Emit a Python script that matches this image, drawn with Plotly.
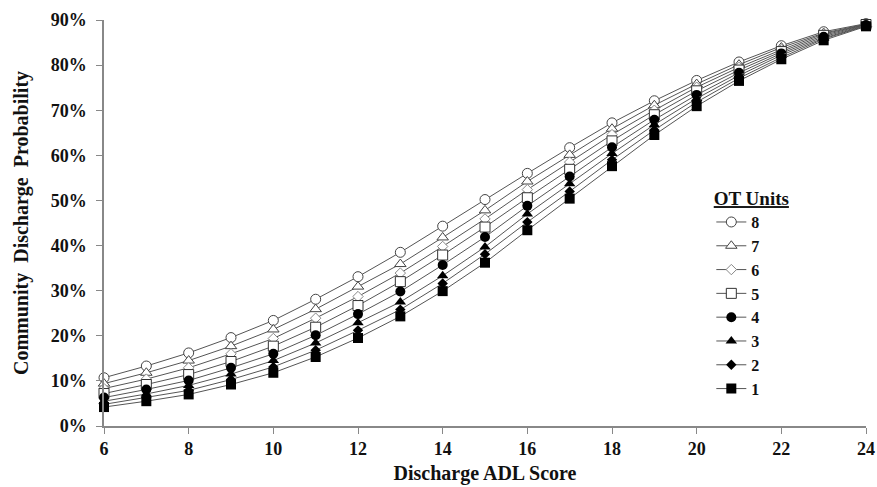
import plotly.graph_objects as go

adl_scores = [6, 7, 8, 9, 10, 11, 12, 13, 14, 15, 16, 17, 18, 19, 20, 21, 22, 23, 24]

# probabilities (%) per OT-unit series
ot_1 = [4.2, 5.5, 7.0, 9.2, 11.8, 15.3, 19.5, 24.3, 29.9, 36.2, 43.4, 50.4, 57.6, 64.5, 70.9, 76.5, 81.3, 85.5, 88.6]
ot_2 = [4.8, 6.3, 7.9, 10.3, 13.1, 16.8, 21.2, 25.8, 31.6, 38.1, 45.2, 52.0, 59.0, 65.6, 71.8, 77.1, 81.7, 85.8, 88.7]
ot_3 = [5.5, 7.1, 9.0, 11.5, 14.5, 18.4, 22.9, 27.5, 33.3, 39.7, 47.0, 53.7, 60.4, 66.8, 72.6, 77.7, 82.2, 86.0, 88.8]
ot_4 = [6.3, 8.1, 10.1, 12.9, 16.0, 20.1, 24.8, 29.8, 35.7, 41.9, 48.8, 55.3, 61.8, 67.9, 73.4, 78.3, 82.6, 86.3, 88.9]
ot_5 = [7.2, 9.2, 11.4, 14.3, 17.7, 21.9, 26.7, 32.0, 37.9, 44.1, 50.6, 56.9, 63.2, 69.0, 74.3, 78.9, 83.0, 86.6, 89.0]
ot_6 = [8.3, 10.4, 12.9, 16.0, 19.4, 23.9, 28.7, 33.9, 39.8, 45.9, 52.4, 58.5, 64.6, 70.0, 75.1, 79.5, 83.4, 86.9, 89.0]
ot_7 = [9.4, 11.8, 14.5, 17.7, 21.4, 25.9, 30.9, 35.9, 41.8, 47.8, 54.2, 60.1, 65.9, 71.1, 75.8, 80.1, 83.9, 87.1, 89.1]
ot_8 = [10.7, 13.3, 16.2, 19.6, 23.4, 28.1, 33.1, 38.5, 44.3, 50.2, 56.0, 61.7, 67.2, 72.1, 76.6, 80.7, 84.3, 87.4, 89.2]

series_names = ["8", "7", "6", "5", "4", "3", "2", "1"]
series_values = [ot_8, ot_7, ot_6, ot_5, ot_4, ot_3, ot_2, ot_1]
y_ticks = [0, 10, 20, 30, 40, 50, 60, 70, 80, 90]
x_ticks = [6, 8, 10, 12, 14, 16, 18, 20, 22, 24]

styles = {
    "8": dict(symbol="circle", size=10, color="white", line=dict(color="#444", width=1)),
    "7": dict(symbol="triangle-up", size=10, color="white", line=dict(color="#444", width=1)),
    "6": dict(symbol="diamond", size=8, color="white", line=dict(color="#888", width=1)),
    "5": dict(symbol="square", size=10, color="white", line=dict(color="#333", width=1)),
    "4": dict(symbol="circle", size=10, color="black", line=dict(color="black", width=0)),
    "3": dict(symbol="triangle-up", size=10, color="black", line=dict(color="black", width=0)),
    "2": dict(symbol="diamond", size=8, color="black", line=dict(color="black", width=0)),
    "1": dict(symbol="square", size=10, color="black", line=dict(color="black", width=0)),
}

FONT = "Liberation Serif"

fig = go.Figure()
for name, vals in zip(series_names, series_values):
    fig.add_trace(go.Scatter(
        x=adl_scores, y=[v / 100 for v in vals], name=f"<b>{name}</b>",
        mode="lines+markers",
        line=dict(color="#555", width=1),
        marker=styles[name],
        cliponaxis=False,
    ))

fig.update_layout(
    width=877, height=487,
    margin=dict(l=104, r=11, t=20, b=61),
    paper_bgcolor="white", plot_bgcolor="white",
    font=dict(family=FONT, color="#111", size=17),
    showlegend=True,
    legend=dict(
        title=dict(text="<b><u>OT Units</u></b>", font=dict(family=FONT, size=19), side="top center"),
        font=dict(family=FONT, size=16, color="#111"),
        x=0.797, y=0.605, xanchor="left", yanchor="top",
        bgcolor="rgba(0,0,0,0)", itemwidth=30, tracegroupgap=0,
    ),
    xaxis=dict(
        range=[6, 24], tickvals=x_ticks, ticktext=[f"<b>{t}</b>" for t in x_ticks],
        showgrid=False, zeroline=False, showline=True, linecolor="#888", linewidth=1.5,
        ticks="outside", ticklen=6, tickcolor="#888", automargin=False,
        tickfont=dict(family=FONT, size=18, color="#111"),
        title=dict(text="<b>Discharge ADL Score</b>", font=dict(family=FONT, size=20), standoff=8),
    ),
    yaxis=dict(
        range=[0, 0.9], tickvals=[t / 100 for t in y_ticks],
        ticktext=[f"<b>{t}%</b>" for t in y_ticks],
        showgrid=False, zeroline=False, showline=True, linecolor="#888", linewidth=1.5,
        ticks="outside", ticklen=6, tickcolor="#888", ticklabelstandoff=6, automargin=False,
        tickfont=dict(family=FONT, size=18, color="#111"),
        title=dict(text="<b>Community  Discharge  Probability</b>", font=dict(family=FONT, size=20), standoff=17),
    ),
)

fig.write_html("out.html")
